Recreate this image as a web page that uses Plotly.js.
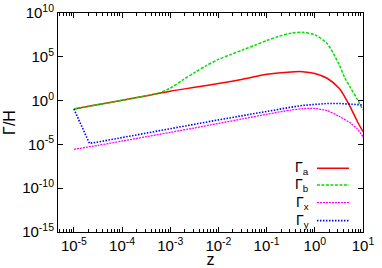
<!DOCTYPE html>
<html>
<head>
<meta charset="utf-8">
<script src="https://cdn.plot.ly/plotly-3.0.1.min.js"></script>
<style>
html,body{margin:0;padding:0;background:#fff;}
#chart{width:382px;height:268px;}
</style>
</head>
<body>
<div id="chart"></div>
<script>
// ---- data ----
const zA = [1e-5, 3.2e-5, 1e-4, 3.2e-4, 1e-3, 3.2e-3, 1e-2, 3.2e-2, 0.1, 0.32, 0.56, 1, 1.8, 3.2, 4.2, 5.6, 7.5, 10];
const gammaA = [0.11, 0.35, 1.07, 3.5, 12, 33, 89, 280, 1000, 1900, 2000, 1260, 355, 25, 2.5, 0.14, 5e-3, 2.8e-4];

const zB = [1e-5, 3.2e-5, 1e-4, 3.2e-4, 5.6e-4, 1e-3, 1.8e-3, 3.2e-3, 5.6e-3, 1e-2, 1.8e-2, 3.2e-2, 5.6e-2, 0.1, 0.18, 0.32, 0.56, 1, 1.8, 3.2, 4.2, 5.6, 7.5, 10];
const gammaB = [0.11, 0.35, 1.07, 3.5, 7.1, 26, 220, 1600, 1e4, 5e4, 1.8e5, 6.3e5, 2e6, 7.1e6, 2.2e7, 5e7, 6.3e7, 3.2e7, 3.2e6, 1.26e4, 400, 25, 1.6, 8.5e-2];

const zX = [1e-5, 3.2e-5, 1e-4, 3.2e-4, 1e-3, 3.2e-3, 1e-2, 3.2e-2, 0.1, 0.32, 0.56, 0.8, 1, 1.8, 3.2, 5.6, 7.5, 10];
const gammaX = [2.75e-6, 7.9e-6, 2.4e-5, 7.6e-5, 2.4e-4, 7.6e-4, 2.5e-3, 8.3e-3, 2.75e-2, 8.3e-2, 0.117, 0.132, 0.126, 7.1e-2, 1.58e-2, 2.5e-3, 6.3e-4, 7.6e-5];

const zY = [1e-5, 2.1e-5, 3.2e-5, 1e-4, 3.2e-4, 1e-3, 3.2e-3, 1e-2, 3.2e-2, 0.1, 0.32, 0.56, 1, 1.8, 3.2, 5.6, 10];
const gammaY = [0.11, 1.32e-5, 1.9e-5, 6.3e-5, 2e-4, 6.3e-4, 2e-3, 6.3e-3, 2e-2, 6.5e-2, 0.178, 0.28, 0.38, 0.47, 0.47, 0.42, 0.32];

const seriesNames = ["Γ<sub>a</sub>", "Γ<sub>b</sub>", "Γ<sub>x</sub>", "Γ<sub>y</sub>"];

const xTickVals = [1e-5, 1e-4, 1e-3, 1e-2, 1e-1, 1, 10];
const xTickText = ["10<sup>-5</sup>", "10<sup>-4</sup>", "10<sup>-3</sup>", "10<sup>-2</sup>", "10<sup>-1</sup>", "10<sup>0</sup>", "10<sup>1</sup>"];
const yTickVals = [1e-15, 1e-10, 1e-5, 1, 1e5, 1e10];
const yTickText = ["10<sup>-15</sup>", "10<sup>-10</sup>", "10<sup>-5</sup>", "10<sup>0</sup>", "10<sup>5</sup>", "10<sup>10</sup>"];

// ---- styles ----
const styles = [
  {color: "#ff0000", dash: "solid", width: 1.5, shape: "spline"},
  {color: "#00e000", dash: "3px,1.5px", width: 1.5, shape: "spline"},
  {color: "#ff00ff", dash: "2px,1px", width: 1.3, shape: "spline"},
  {color: "#0000ff", dash: "1.5px,1.5px", width: 1.6, shape: "linear"}
];
const xs = [zA, zB, zX, zY];
const ys = [gammaA, gammaB, gammaX, gammaY];

const traces = xs.map((x, i) => ({
  x: x, y: ys[i], type: "scatter", mode: "lines", name: seriesNames[i],
  line: {color: styles[i].color, dash: styles[i].dash, width: styles[i].width, shape: styles[i].shape, smoothing: 0.8},
  showlegend: false, hoverinfo: "skip"
}));

// ---- legend drawn gnuplot-style (label, then sample line) ----
const legY = [0.291, 0.215, 0.134, 0.052];
const annotations = [];
const shapes = [];
seriesNames.forEach((n, i) => {
  annotations.push({
    xref: "paper", yref: "paper", x: 0.83, y: legY[i], xanchor: "right", yanchor: "middle",
    text: n, showarrow: false, font: {family: "Liberation Sans, Arial, sans-serif", size: 14, color: "#000"}
  });
  shapes.push({
    type: "line", xref: "paper", yref: "paper", x0: 0.849, x1: 0.954, y0: legY[i], y1: legY[i],
    line: {color: styles[i].color, dash: styles[i].dash, width: styles[i].width}
  });
});

const font = {family: "Liberation Sans, Arial, sans-serif", size: 15, color: "#000"};

const layout = {
  width: 382, height: 268,
  margin: {l: 58, r: 19, t: 13, b: 36},
  paper_bgcolor: "#fff", plot_bgcolor: "#fff",
  font: font,
  showlegend: false,
  xaxis: {
    type: "log", range: [-5.33, 1],
    tickvals: xTickVals, ticktext: xTickText,
    ticks: "inside", ticklen: 5, tickcolor: "#000", tickwidth: 1,
    showline: true, linecolor: "#000", linewidth: 1, mirror: "allticks",
    showgrid: false, zeroline: false,
    minor: {ticks: "inside", ticklen: 3, tickcolor: "#000", dtick: "D1", showgrid: false},
    tickfont: font,
    title: {text: "z", font: {family: "Liberation Sans, Arial, sans-serif", size: 16}, standoff: 0}
  },
  yaxis: {
    type: "log", range: [-15, 10],
    tickvals: yTickVals, ticktext: yTickText,
    ticks: "inside", ticklen: 5, tickcolor: "#000", tickwidth: 1,
    showline: true, linecolor: "#000", linewidth: 1, mirror: "allticks",
    showgrid: false, zeroline: false,
    tickfont: font,
    title: {text: "Γ/H", font: {family: "Liberation Sans, Arial, sans-serif", size: 16}, standoff: 2}
  },
  annotations: annotations,
  shapes: shapes
};

Plotly.newPlot("chart", traces, layout, {staticPlot: true, displayModeBar: false});
</script>
</body>
</html>
